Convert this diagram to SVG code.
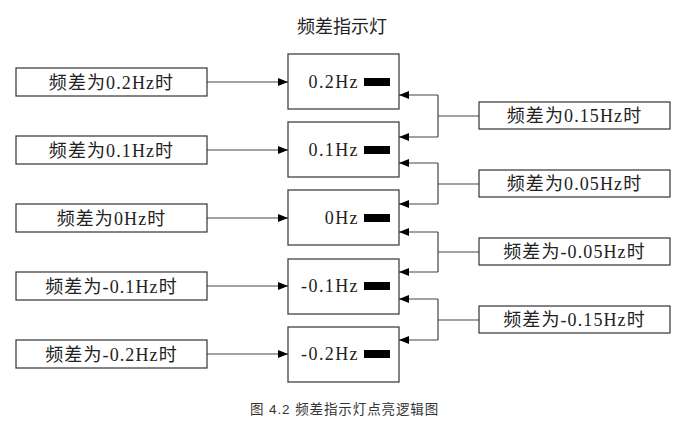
<svg xmlns="http://www.w3.org/2000/svg" width="679" height="423" viewBox="0 0 679 423">
<defs>
<marker id="ah" markerUnits="userSpaceOnUse" markerWidth="11" markerHeight="9" refX="10" refY="4" orient="auto">
<path d="M0,0 L10,4 L0,8 z" fill="#000"/>
</marker>
<style>
.box{fill:#fff;stroke:#333;stroke-width:1.2}
.lbl{font-family:"Liberation Serif","Noto Sans CJK SC",serif;font-size:18px;fill:#222;text-anchor:middle;letter-spacing:1.1px}
.lamp{font-family:"Liberation Serif","Noto Sans CJK SC",serif;font-size:18px;fill:#222;text-anchor:end;letter-spacing:1.4px}
.bar{fill:#000}
.ln{fill:none;stroke:#444;stroke-width:1.2}
.arr{fill:none;stroke:#444;stroke-width:1.2;marker-end:url(#ah)}
.title{font-family:"Noto Sans CJK SC",sans-serif;font-size:18px;fill:#222;text-anchor:middle}
.cap{font-family:"Liberation Sans","Noto Sans CJK SC",sans-serif;font-size:13.5px;fill:#333;letter-spacing:0.9px}
</style>
</defs>
<rect width="679" height="423" fill="#fff"/>
<text class="title" x="342" y="33">频差指示灯</text>

<g id="connectors">
<path class="arr" d="M207,82 H288"/>
<path class="arr" d="M207,150 H288"/>
<path class="arr" d="M207,218 H288"/>
<path class="arr" d="M207,286 H288"/>
<path class="arr" d="M207,354 H288"/>
<path class="ln" d="M479,116 H438 M438,95 V137"/>
<path class="arr" d="M438,95 H399"/>
<path class="arr" d="M438,137 H399"/>
<path class="ln" d="M479,184 H438 M438,163 V204"/>
<path class="arr" d="M438,163 H399"/>
<path class="arr" d="M438,204 H399"/>
<path class="ln" d="M479,252 H438 M438,232 V272"/>
<path class="arr" d="M438,232 H399"/>
<path class="arr" d="M438,272 H399"/>
<path class="ln" d="M479,320 H438 M438,299 V340"/>
<path class="arr" d="M438,299 H399"/>
<path class="arr" d="M438,340 H399"/>
</g>

<g id="in-0.2"><rect class="box" x="16" y="68" width="191" height="28"/><text class="lbl" x="111.5" y="88.5">频差为0.2Hz时</text></g>
<g id="in-0.1"><rect class="box" x="16" y="136" width="191" height="28"/><text class="lbl" x="111.5" y="156.5">频差为0.1Hz时</text></g>
<g id="in-0"><rect class="box" x="16" y="204" width="191" height="28"/><text class="lbl" x="111.5" y="224.5">频差为0Hz时</text></g>
<g id="in-m0.1"><rect class="box" x="16" y="272" width="191" height="28"/><text class="lbl" x="111.5" y="292.5">频差为-0.1Hz时</text></g>
<g id="in-m0.2"><rect class="box" x="16" y="340" width="191" height="28"/><text class="lbl" x="111.5" y="360.5">频差为-0.2Hz时</text></g>

<g id="lamp-0.2"><rect class="box" x="288" y="54" width="111" height="55"/><text class="lamp" x="359" y="88">0.2Hz</text><rect class="bar" x="364" y="78" width="26" height="8"/></g>
<g id="lamp-0.1"><rect class="box" x="288" y="122" width="111" height="55"/><text class="lamp" x="359" y="156">0.1Hz</text><rect class="bar" x="364" y="146" width="26" height="8"/></g>
<g id="lamp-0"><rect class="box" x="288" y="190" width="111" height="55"/><text class="lamp" x="359" y="224">0Hz</text><rect class="bar" x="364" y="214" width="26" height="8"/></g>
<g id="lamp-m0.1"><rect class="box" x="288" y="259" width="111" height="55"/><text class="lamp" x="359" y="292">-0.1Hz</text><rect class="bar" x="364" y="282" width="26" height="8"/></g>
<g id="lamp-m0.2"><rect class="box" x="288" y="327" width="111" height="55"/><text class="lamp" x="359" y="360">-0.2Hz</text><rect class="bar" x="364" y="350" width="26" height="8"/></g>

<g id="in-0.15"><rect class="box" x="479" y="102" width="191" height="27"/><text class="lbl" x="574.5" y="122">频差为0.15Hz时</text></g>
<g id="in-0.05"><rect class="box" x="479" y="170" width="191" height="27"/><text class="lbl" x="574.5" y="190">频差为0.05Hz时</text></g>
<g id="in-m0.05"><rect class="box" x="479" y="238" width="191" height="27"/><text class="lbl" x="574.5" y="258">频差为-0.05Hz时</text></g>
<g id="in-m0.15"><rect class="box" x="479" y="306" width="191" height="27"/><text class="lbl" x="574.5" y="326">频差为-0.15Hz时</text></g>

<text class="cap" x="250" y="414">图 4.2 频差指示灯点亮逻辑图</text>
</svg>
